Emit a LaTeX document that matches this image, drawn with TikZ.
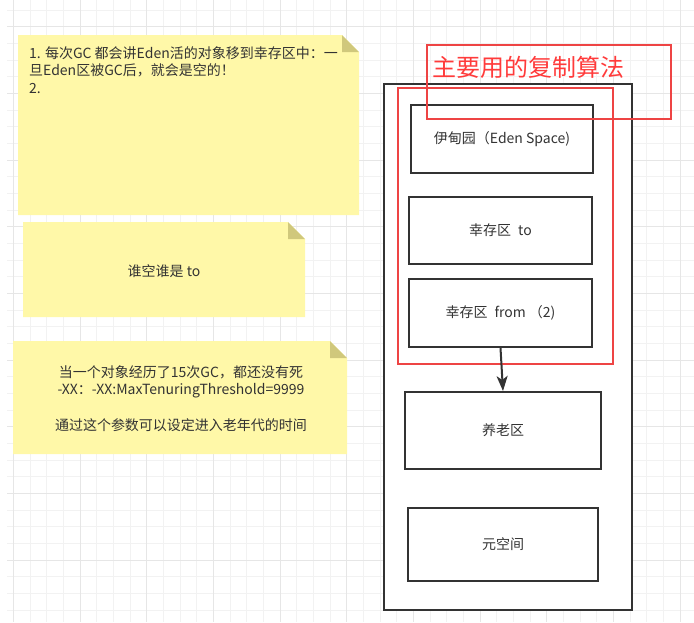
\documentclass[tikz,border=0pt]{standalone}
\usepackage{fontspec}
\setmainfont{Noto Sans CJK SC}
\usetikzlibrary{arrows.meta}
\definecolor{notey}{HTML}{FFF8A8}
\definecolor{notefold}{HTML}{D0C87C}
\definecolor{ink}{HTML}{333333}
\definecolor{redline}{HTML}{EE4444}
\definecolor{redtext}{HTML}{FF3B3B}
\definecolor{gridmin}{HTML}{F2F2F2}
\definecolor{gridmaj}{HTML}{E6E6E6}
\begin{document}
\begin{tikzpicture}[x=1pt,y=-1pt,
  gridminor/.style={draw=gridmin,line width=0.8pt},
  gridmajor/.style={draw=gridmaj,line width=1pt},
  notebody/.style={fill=notey},
  notecorner/.style={fill=notefold},
  notetext/.style={text=ink,inner sep=0pt,font=\fontsize{14}{17.5}\selectfont},
  memblock/.style={draw=ink,line width=2pt,fill=white,text=ink,inner sep=0pt,font=\fontsize{14}{17}\selectfont},
  redframe/.style={draw=redline,line width=2pt,inner sep=0pt},
  flow/.style={draw=ink,line width=2pt,-{Stealth[length=15pt,width=11pt,inset=4pt]}}
]
\useasboundingbox (0,0) rectangle (694,622);
\fill[white] (0,0) rectangle (694,622);
% grid
\foreach \k in {0,...,40} \draw[gridminor] ({13.333+16.667*\k},0) -- ({13.333+16.667*\k},622);
\foreach \k in {0,...,36} \draw[gridminor] (7,{10+16.667*\k}) -- (694,{10+16.667*\k});
\foreach \k in {0,...,10} \draw[gridmajor] ({13.333+66.667*\k},0) -- ({13.333+66.667*\k},622);
\foreach \k in {0,...,8} \draw[gridmajor] (7,{26.667+66.667*\k}) -- (694,{26.667+66.667*\k});

% note 1
\fill[notebody] (18,35) -- (342,35) -- (359,52) -- (359,215) -- (18,215) -- cycle;
\fill[notecorner] (342,35) -- (359,52) -- (342,52) -- cycle;
\node[notetext,anchor=north west,align=left] (n1) at (29,46)
  {1. 每次GC 都会讲Eden活的对象移到幸存区中：一\\旦Eden区被GC后，就会是空的！\\2.};

% note 2
\fill[notebody] (23,222) -- (288,222) -- (305,239) -- (305,317) -- (23,317) -- cycle;
\fill[notecorner] (288,222) -- (305,239) -- (288,239) -- cycle;
\node[notetext] (n2) at (164,271) {谁空谁是 to};

% note 3
\fill[notebody] (13,341) -- (330,341) -- (347,358) -- (347,454) -- (13,454) -- cycle;
\fill[notecorner] (330,341) -- (347,358) -- (330,358) -- cycle;
\node[notetext,align=center,font=\fontsize{14}{17}\selectfont] (n3) at (181,399)
  {当一个对象经历了15次GC，都还没有死\\-XX：-XX:MaxTenuringThreshold=9999\\[19pt]通过这个参数可以设定进入老年代的时间};

% heap
\node[memblock,minimum width=248pt,minimum height=526pt] (heap) at (508,347) {};
\node[redframe,minimum width=215pt,minimum height=276pt] (young) at (505.5,226) {};
\node[memblock,minimum width=182pt,minimum height=68pt] (eden) at (502,139) {伊甸园（Eden Space)};
\node[memblock,minimum width=183pt,minimum height=67pt] (to) at (500.5,230.5) {幸存区\hspace{7pt}to};
\node[memblock,minimum width=183pt,minimum height=68pt] (from) at (500.5,313) {幸存区\hspace{7pt}from\hspace{3pt}（2)};
\node[memblock,minimum width=196pt,minimum height=77pt] (old) at (503,430.5) {养老区};
\node[memblock,minimum width=190pt,minimum height=73pt] (meta) at (503,544.5) {元空间};
\draw[flow] (from.south) -- (old.north);

% title
\node[redframe,minimum width=244pt,minimum height=74pt] (titlebox) at (549,82) {};
\node[text=redtext,inner sep=0pt,anchor=west,font=\fontsize{24}{28}\selectfont] (title) at (432,67) {主要用的复制算法};
\end{tikzpicture}
\end{document}
